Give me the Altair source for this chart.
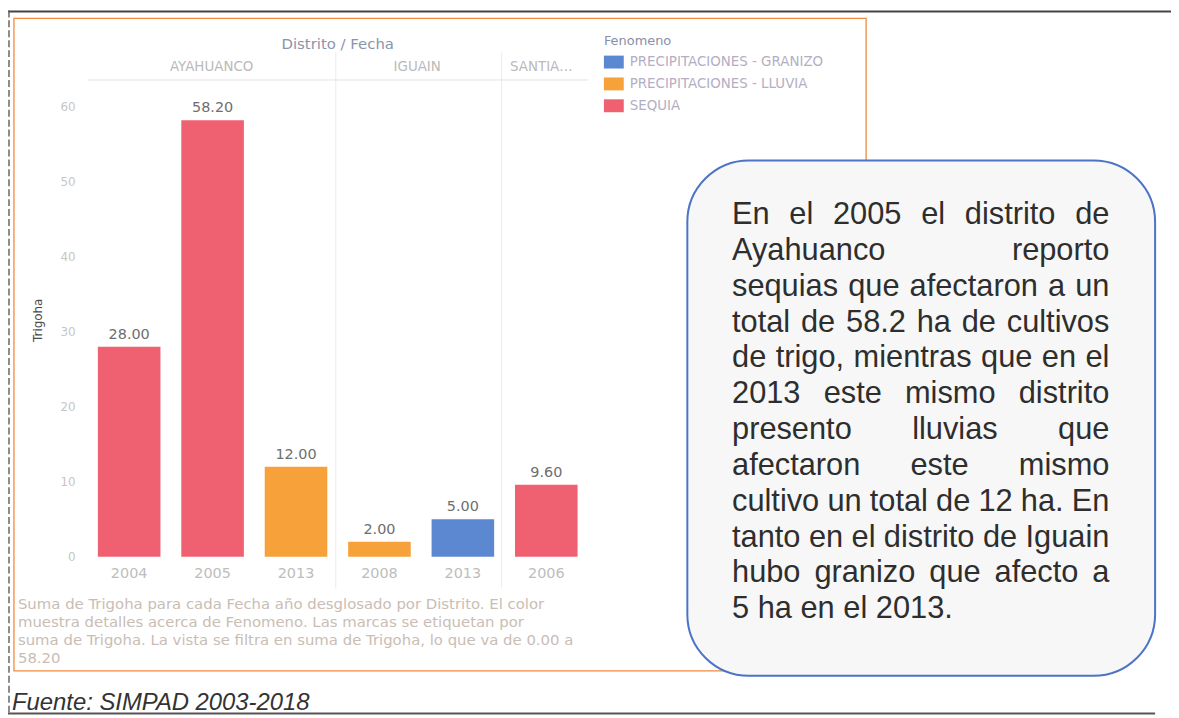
import altair as alt
import pandas as pd

# ---------------- data ----------------
districts = ["AYAHUANCO", "AYAHUANCO", "AYAHUANCO", "IGUAIN", "IGUAIN", "SANTIAGO"]
years = ["2004", "2005", "2013", "2008", "2013", "2006"]
fenomenos = ["SEQUIA", "SEQUIA", "PRECIPITACIONES - LLUVIA",
             "PRECIPITACIONES - LLUVIA", "PRECIPITACIONES - GRANIZO", "SEQUIA"]
values = [28.0, 58.2, 12.0, 2.0, 5.0, 9.6]

fen_domain = ["PRECIPITACIONES - GRANIZO", "PRECIPITACIONES - LLUVIA", "SEQUIA"]
fen_colors = ["#5b88d1", "#f6a13a", "#ef6070"]

y_ticks = [0, 10, 20, 30, 40, 50, 60]

header_labels = ["AYAHUANCO", "IGUAIN", "SANTIA\u2026"]
header_x = [205, 412, 537]

caption_lines = [
    "Suma de Trigoha para cada Fecha año desglosado por Distrito.  El color",
    "muestra detalles acerca de Fenomeno.  Las marcas se etiquetan por",
    "suma de Trigoha. La vista se filtra en suma de Trigoha, lo que va de 0.00 a",
    "58.20",
]

note_lines = [
    "En el 2005 el distrito de",
    "Ayahuanco reporto",
    "sequias que afectaron a un",
    "total de 58.2 ha de cultivos",
    "de trigo, mientras que en el",
    "2013 este mismo distrito",
    "presento lluvias que",
    "afectaron este mismo",
    "cultivo un total de 12 ha. En",
    "tanto en el distrito de Iguain",
    "hubo granizo que afecto a",
    "5 ha en el 2013.",
]

# ---------------- tables ----------------
keys = [f"{d}|{y}" for d, y in zip(districts, years)]
bars = pd.DataFrame({"key": keys, "district": districts, "year": years,
                     "fen": fenomenos, "value": values,
                     "label": [f"{v:.2f}" for v in values]})

# Arial / Liberation Sans advance widths (per 1000 em) for justification
W = {c: 556 for c in "abdeghnopqu0123456789"}
W.update({"c": 500, "k": 500, "s": 500, "v": 500, "x": 500, "y": 500, "z": 500,
          "f": 278, "t": 278, "i": 222, "j": 222, "l": 222, "r": 333, "m": 833,
          "w": 722, "A": 667, "E": 667, "I": 278, ".": 278, ",": 278, " ": 278})
FS = 31
def wlen(s):
    return sum(W.get(ch, 556) for ch in s) * FS / 1000.0

left, right = 729, 1109
base0, lead = 215, 36.1
rows = []
for i, line in enumerate(note_lines):
    words = line.split(" ")
    ws = [wlen(w) for w in words]
    if i == len(note_lines) - 1 or len(words) == 1:
        gap = wlen(" ")
    else:
        gap = (right - left - sum(ws)) / (len(words) - 1)
    x = left
    for w, wl in zip(words, ws):
        rows.append({"px": x, "py": base0 + i * lead, "word": w})
        x += wl + gap
note_df = pd.DataFrame(rows)

one = pd.DataFrame({"a": [0]})
TF = "DejaVu Sans"

# ---------------- scales ----------------
xscale = alt.Scale(domain=keys, range=[80, 584], paddingInner=0.25, paddingOuter=0.125)
yscale = alt.Scale(domain=[0, 60], range=[550, 97], nice=False, zero=True)

# ---------------- layers ----------------
page_lines = alt.Chart(one).mark_rule(color="#444", strokeWidth=2).encode(
    x=alt.value(0), x2=alt.value(1171), y=alt.value(1))
page_left = alt.Chart(one).mark_rule(color="#666", strokeWidth=1.5, strokeDash=[7, 3]).encode(
    x=alt.value(1), y=alt.value(0), y2=alt.value(710))
page_bottom = alt.Chart(one).mark_rule(color="#555", strokeWidth=2).encode(
    x=alt.value(0), x2=alt.value(1155), y=alt.value(708))

frame = alt.Chart(one).mark_rect(fill=None, stroke="#f08a3c", strokeWidth=1.3).encode(
    x=alt.value(6), x2=alt.value(864), y=alt.value(8), y2=alt.value(665))

sep1 = alt.Chart(one).mark_rule(color="#ececec").encode(
    x=alt.value(330), y=alt.value(42), y2=alt.value(582))
sep2 = alt.Chart(one).mark_rule(color="#ececec").encode(
    x=alt.value(497), y=alt.value(42), y2=alt.value(582))
hdr_line = alt.Chart(one).mark_rule(color="#e2e2e2").encode(
    x=alt.value(80), x2=alt.value(584), y=alt.value(70))

title = alt.Chart(one).mark_text(text="Distrito / Fecha", fontSize=15, color="#8a94aa",
                                 font=TF).encode(
    x=alt.value(332), y=alt.value(34))

headers = alt.Chart(pd.DataFrame({"h": header_labels, "hx": header_x})).mark_text(
    fontSize=13.5, color="#bababa", font=TF).encode(
    x=alt.X("hx:Q", scale=None), y=alt.value(57), text="h:N")

ytitle = alt.Chart(one).mark_text(text="Trigoha", fontSize=12, color="#4a4a4a", angle=270,
                                  font=TF).encode(
    x=alt.value(30), y=alt.value(312))

yticks = alt.Chart(pd.DataFrame({"t": y_ticks})).mark_text(
    align="right", fontSize=12, color="#c6c6c6", font=TF).encode(
    x=alt.value(68), y=alt.Y("t:Q", scale=yscale, axis=None), text="t:Q")

bar_layer = alt.Chart(bars).mark_bar(size=63).encode(
    x=alt.X("key:N", scale=xscale, axis=None, sort=keys),
    y=alt.Y("value:Q", scale=yscale, axis=None),
    color=alt.Color("fen:N", scale=alt.Scale(domain=fen_domain, range=fen_colors),
                    legend=alt.Legend(orient="none", legendX=600, legendY=25,
                                      title="Fenomeno", titleFontSize=13,
                                      titleFontWeight="normal", titleColor="#8a8ea6",
                                      titleFont=TF, titlePadding=4,
                                      labelFontSize=13.5, labelColor="#b4aec4",
                                      labelFont=TF, labelOffset=6, labelLimit=400,
                                      symbolType="M-1,-0.65H1V0.65H-1Z", symbolSize=400,
                                      symbolStrokeWidth=0, symbolOpacity=1,
                                      rowPadding=5)),
)

val_labels = alt.Chart(bars).mark_text(baseline="bottom", dy=-5, fontSize=14.5,
                                       color="#6e6e6e", font=TF).encode(
    x=alt.X("key:N", scale=xscale, axis=None, sort=keys),
    y=alt.Y("value:Q", scale=yscale, axis=None), text="label:N")

year_labels = alt.Chart(bars).mark_text(fontSize=14.5, color="#bdbdbd",
                                        font=TF).encode(
    x=alt.X("key:N", scale=xscale, axis=None, sort=keys),
    y=alt.value(567), text="year:N")

caption = alt.Chart(pd.DataFrame({"c": caption_lines,
                                  "cy": [598 + 18 * i for i in range(len(caption_lines))]})
                    ).mark_text(align="left", fontSize=15, color="#c9bdb4",
                                font=TF).encode(
    x=alt.value(10), y=alt.Y("cy:Q", scale=None), text="c:N")

fuente = alt.Chart(one).mark_text(text="Fuente: SIMPAD 2003-2018", align="left",
                                  baseline="alphabetic", fontSize=24, fontStyle="italic",
                                  color="#333", font="Liberation Sans").encode(
    x=alt.value(4), y=alt.value(704))

box = alt.Chart(one).mark_rect(fill="#f7f7f7", stroke="#4c73c6", strokeWidth=2,
                               cornerRadius=62).encode(
    x=alt.value(684), x2=alt.value(1155), y=alt.value(151), y2=alt.value(670))

note = alt.Chart(note_df).mark_text(align="left", baseline="alphabetic", fontSize=FS,
                                    color="#2e2e2e", font="Liberation Sans").encode(
    x=alt.X("px:Q", scale=None), y=alt.Y("py:Q", scale=None), text="word:N")

chart = alt.layer(
    page_lines, page_left, page_bottom, frame, sep1, sep2, hdr_line, title, headers,
    ytitle, yticks, bar_layer, val_labels, year_labels, caption, fuente, box, note
).resolve_scale(x="independent", y="independent").properties(
    width=1171, height=710, autosize="none", padding=0, background="white"
).configure_view(stroke=None)

chart.save("out.html", embed_options={"renderer": "svg", "actions": False})
